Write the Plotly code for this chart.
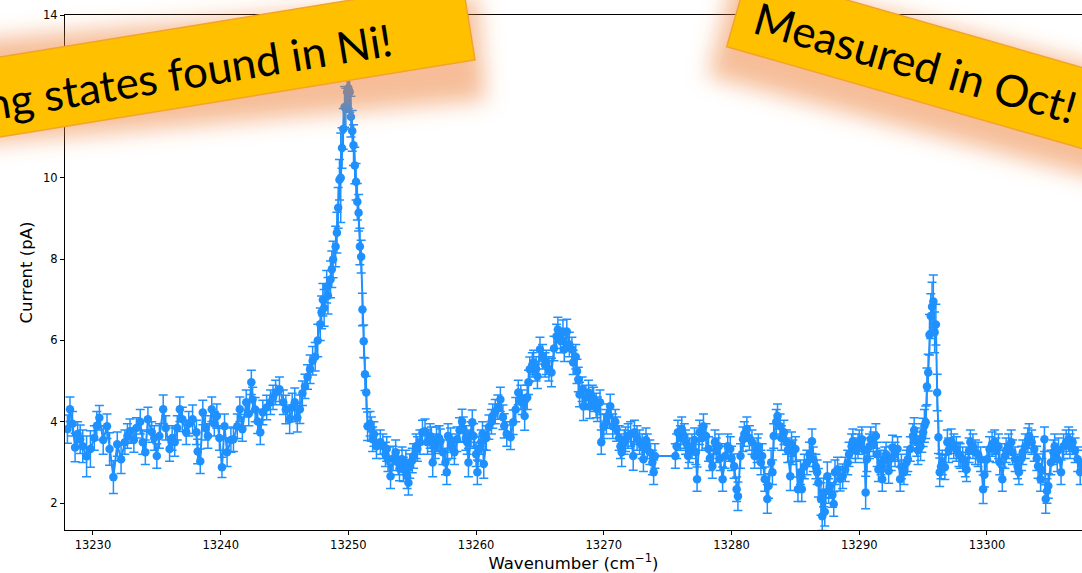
import base64
import math
import plotly.graph_objects as go

# ---------------- data ----------------
wavenumber = [
    13228.0, 13228.2, 13228.4, 13228.6, 13228.8, 13229.0, 13229.2, 13229.5, 13229.8, 13230.1,
    13230.3, 13230.5, 13230.8, 13231.1, 13231.3, 13231.6, 13231.9, 13232.2, 13232.5, 13232.7,
    13232.9, 13233.2, 13233.4, 13233.7, 13233.9, 13234.1, 13234.3, 13234.6, 13234.8, 13235.0,
    13235.2, 13235.5, 13235.7, 13236.0, 13236.2, 13236.4, 13236.6, 13236.8, 13237.0, 13237.3,
    13237.5, 13237.8, 13238.1, 13238.2, 13238.4, 13238.6, 13238.8, 13239.0, 13239.3, 13239.5,
    13239.7, 13239.9, 13240.1, 13240.3, 13240.5, 13240.8, 13241.0, 13241.3, 13241.5, 13241.7,
    13242.0, 13242.2, 13242.4, 13242.5, 13242.7, 13242.9, 13243.1, 13243.3, 13243.6, 13243.9,
    13244.1, 13244.3, 13244.6, 13244.9, 13245.1, 13245.4, 13245.6, 13245.8, 13246.0, 13246.2,
    13246.4, 13246.6, 13246.8, 13247.0, 13247.2, 13247.4, 13247.6, 13247.8, 13247.9, 13248.0,
    13248.1, 13248.3, 13248.4, 13248.6, 13248.7, 13248.8, 13249.0, 13249.1, 13249.2, 13249.3,
    13249.4, 13249.5, 13249.6, 13249.7, 13249.8, 13249.9, 13250.0, 13250.1, 13250.2, 13250.3,
    13250.4, 13250.5, 13250.6, 13250.7, 13250.8, 13250.9, 13251.0, 13251.1, 13251.2, 13251.3,
    13251.4, 13251.5, 13251.7, 13251.8, 13251.9, 13252.0, 13252.2, 13252.5, 13252.7, 13252.9,
    13253.0, 13253.1, 13253.3, 13253.5, 13253.7, 13253.9, 13254.0, 13254.2, 13254.3, 13254.5,
    13254.6, 13254.7, 13254.8, 13255.0, 13255.1, 13255.3, 13255.4, 13255.6, 13255.8, 13256.0,
    13256.2, 13256.4, 13256.5, 13256.6, 13256.8, 13256.9, 13257.1, 13257.2, 13257.4, 13257.6,
    13257.7, 13257.8, 13258.0, 13258.1, 13258.3, 13258.5, 13258.7, 13258.9, 13259.0, 13259.2,
    13259.3, 13259.4, 13259.6, 13259.7, 13259.8, 13260.0, 13260.1, 13260.2, 13260.4, 13260.5,
    13260.6, 13260.8, 13261.0, 13261.2, 13261.3, 13261.5, 13261.7, 13261.9, 13262.1, 13262.2,
    13262.4, 13262.7, 13262.9, 13263.1, 13263.3, 13263.5, 13263.6, 13263.8, 13264.0, 13264.1,
    13264.2, 13264.4, 13264.5, 13264.7, 13264.8, 13265.0, 13265.2, 13265.4, 13265.5, 13265.7,
    13265.9, 13266.1, 13266.3, 13266.4, 13266.6, 13266.8, 13266.9, 13267.1, 13267.3, 13267.5,
    13267.6, 13267.8, 13267.9, 13268.0, 13268.1, 13268.3, 13268.4, 13268.6, 13268.8, 13268.9,
    13269.1, 13269.2, 13269.4, 13269.5, 13269.7, 13269.8, 13270.0, 13270.2, 13270.3, 13270.5,
    13270.7, 13270.9, 13271.0, 13271.2, 13271.3, 13271.4, 13271.6, 13271.7, 13271.9, 13272.1,
    13272.3, 13272.4, 13272.6, 13272.8, 13273.0, 13273.1, 13273.3, 13273.4, 13273.6, 13273.8,
    13273.9, 13274.0, 13275.6, 13275.7, 13275.8, 13276.0, 13276.1, 13276.3, 13276.4, 13276.6,
    13276.7, 13276.9, 13277.1, 13277.2, 13277.3, 13277.5, 13277.7, 13277.8, 13278.0, 13278.2,
    13278.3, 13278.5, 13278.7, 13278.8, 13279.0, 13279.1, 13279.3, 13279.5, 13279.7, 13279.9,
    13280.0, 13280.2, 13280.4, 13280.5, 13280.7, 13280.9, 13281.0, 13281.2, 13281.4, 13281.6,
    13281.8, 13282.0, 13282.1, 13282.3, 13282.4, 13282.6, 13282.8, 13282.9, 13283.1, 13283.2,
    13283.3, 13283.5, 13283.6, 13283.8, 13283.9, 13284.1, 13284.3, 13284.4, 13284.6, 13284.7,
    13284.8, 13285.0, 13285.2, 13285.4, 13285.5, 13285.7, 13285.9, 13286.1, 13286.3, 13286.4,
    13286.6, 13286.7, 13286.8, 13287.0, 13287.1, 13287.2, 13287.3, 13287.5, 13287.6, 13287.7,
    13287.9, 13288.0, 13288.1, 13288.3, 13288.5, 13288.7, 13288.9, 13289.1, 13289.2, 13289.4,
    13289.5, 13289.7, 13289.9, 13290.0, 13290.2, 13290.4, 13290.5, 13290.6, 13290.8, 13290.9,
    13291.1, 13291.3, 13291.4, 13291.5, 13291.7, 13291.8, 13292.0, 13292.1, 13292.3, 13292.5,
    13292.6, 13292.8, 13293.0, 13293.2, 13293.3, 13293.5, 13293.7, 13293.8, 13294.0, 13294.2,
    13294.3, 13294.5, 13294.6, 13294.8, 13294.9, 13295.0, 13295.1, 13295.2, 13295.3, 13295.4,
    13295.5, 13295.6, 13295.7, 13295.8, 13295.9, 13296.0, 13296.1, 13296.2, 13296.3, 13296.4,
    13296.5, 13296.7, 13296.9, 13297.0, 13297.2, 13297.4, 13297.6, 13297.8, 13297.9, 13298.1,
    13298.3, 13298.4, 13298.6, 13298.7, 13298.9, 13299.1, 13299.3, 13299.5, 13299.7, 13299.8,
    13300.0, 13300.2, 13300.4, 13300.6, 13300.7, 13300.9, 13301.0, 13301.2, 13301.4, 13301.5,
    13301.7, 13301.9, 13302.0, 13302.2, 13302.4, 13302.5, 13302.7, 13302.8, 13303.0, 13303.2,
    13303.3, 13303.5, 13303.7, 13303.9, 13304.0, 13304.2, 13304.3, 13304.5, 13304.6, 13304.7,
    13304.8, 13305.0, 13305.2, 13305.3, 13305.5, 13305.6, 13305.8, 13306.0, 13306.2, 13306.4,
    13306.5, 13306.7, 13306.9, 13307.1, 13307.3, 13307.5,
]

current = [
    3.82, 4.31, 3.95, 3.37, 3.70, 3.57, 3.40, 3.15, 3.33, 3.60,
    3.90, 4.10, 3.55, 3.89, 3.33, 2.64, 3.45, 3.08, 3.50, 3.65,
    3.77, 3.55, 3.85, 4.00, 3.50, 3.25, 4.06, 3.75, 3.60, 3.16,
    3.65, 4.31, 3.85, 3.33, 3.60, 3.50, 3.85, 4.31, 4.06, 3.74,
    3.95, 4.06, 3.74, 3.27, 3.03, 4.23, 3.85, 3.65, 4.31, 3.95,
    4.14, 3.60, 2.88, 3.89, 3.25, 3.55, 3.57, 3.89, 4.31, 3.82,
    4.48, 4.20, 4.97, 4.55, 4.30, 4.01, 3.74, 4.23, 4.35, 4.48,
    4.60, 4.72, 4.80, 4.48, 4.30, 4.06, 4.35, 4.48, 4.10, 4.31,
    4.70, 4.87, 5.10, 5.29, 5.50, 5.60, 6.00, 6.40, 6.69, 7.00,
    6.80, 7.32, 7.10, 7.50, 7.75, 7.99, 8.31, 8.65, 9.26, 9.95,
    10.00, 10.73, 11.20, 11.74, 11.70, 12.11, 12.20, 12.11, 11.50, 11.15,
    10.80, 10.30, 9.90, 9.41, 9.14, 8.31, 8.06, 6.76, 5.98, 5.17,
    4.72, 3.89, 3.95, 3.82, 3.57, 3.70, 3.40, 3.50, 3.40, 3.20,
    3.33, 3.08, 2.66, 3.10, 3.25, 3.00, 2.85, 3.08, 2.83, 3.00,
    2.66, 2.50, 2.91, 3.05, 3.16, 3.40, 3.33, 3.50, 3.74, 3.77,
    3.50, 3.65, 3.57, 3.00, 3.40, 3.57, 3.60, 3.52, 3.25, 3.00,
    2.76, 3.65, 3.55, 3.40, 3.25, 3.57, 3.80, 4.01, 3.82, 3.60,
    3.50, 3.00, 3.70, 3.99, 3.65, 3.20, 2.76, 3.33, 3.50, 3.70,
    2.96, 3.60, 3.87, 4.00, 4.14, 4.25, 4.36, 4.55, 4.11, 3.90,
    3.70, 3.62, 3.99, 4.30, 4.72, 4.60, 4.48, 4.14, 4.60, 4.97,
    5.29, 5.40, 5.46, 5.30, 5.12, 5.78, 5.60, 5.40, 5.46, 5.30,
    5.21, 5.80, 6.10, 6.27, 6.00, 6.20, 5.78, 6.22, 5.90, 5.78,
    5.46, 5.60, 5.24, 5.04, 4.67, 4.80, 4.38, 4.60, 4.72, 4.38,
    4.60, 4.55, 4.40, 4.31, 4.48, 3.50, 3.89, 4.00, 4.14, 4.38,
    3.89, 4.00, 3.82, 3.60, 3.40, 3.25, 3.50, 3.57, 3.65, 3.70,
    3.16, 3.74, 3.60, 3.50, 3.40, 3.08, 3.55, 3.40, 3.25, 3.00,
    2.76, 3.16, 3.16, 3.40, 3.74, 3.60, 3.82, 3.65, 3.50, 3.16,
    3.30, 3.40, 3.55, 3.25, 2.59, 3.74, 3.60, 3.89, 3.65, 3.33,
    3.10, 2.91, 3.50, 3.30, 3.40, 3.10, 2.59, 3.16, 3.40, 3.33,
    3.10, 2.91, 2.34, 2.17, 3.16, 3.57, 3.70, 3.82, 3.60, 3.50,
    3.16, 3.30, 3.40, 3.00, 3.16, 2.59, 2.10, 2.42, 3.00, 2.76,
    3.65, 4.00, 4.14, 3.89, 3.60, 3.74, 3.50, 3.30, 2.66, 3.45,
    3.25, 3.33, 2.34, 2.76, 2.34, 2.90, 3.00, 3.20, 3.52, 3.08,
    2.90, 2.76, 2.50, 2.10, 1.68, 2.26, 1.79, 2.66, 2.30, 2.42,
    2.20, 1.98, 2.76, 2.83, 2.60, 2.66, 2.83, 3.00, 3.20, 3.40,
    3.52, 3.30, 3.40, 3.50, 3.57, 3.30, 2.26, 3.08, 3.40, 3.57,
    3.45, 3.65, 3.20, 2.83, 3.00, 2.59, 3.08, 3.20, 2.79, 3.10,
    3.37, 3.20, 3.33, 2.59, 2.90, 2.76, 3.00, 3.08, 3.33, 3.65,
    3.80, 3.50, 3.30, 3.40, 3.60, 3.74, 3.90, 3.99, 4.87, 5.21,
    6.14, 6.60, 6.83, 6.96, 6.20, 6.39, 4.72, 3.62, 2.76, 2.90,
    3.00, 2.88, 3.50, 3.30, 3.52, 3.40, 3.33, 3.20, 3.16, 3.08,
    2.95, 2.83, 3.30, 3.50, 3.40, 3.25, 3.20, 3.08, 2.34, 2.70,
    3.08, 3.33, 3.45, 3.50, 3.30, 3.40, 3.00, 2.59, 3.16, 3.30,
    3.40, 3.50, 3.25, 3.08, 2.90, 2.76, 3.10, 3.25, 3.40, 3.55,
    3.65, 3.50, 3.33, 3.10, 2.91, 2.59, 2.80, 3.57, 2.10, 2.30,
    2.42, 3.00, 3.25, 3.40, 3.08, 3.30, 2.76, 3.40, 3.50, 3.57,
    3.40, 3.50, 3.30, 3.08, 2.76, 3.00,
]

current_err = [
    0.35, 0.30, 0.30, 0.35, 0.30, 0.35, 0.40, 0.50, 0.45, 0.30,
    0.35, 0.30, 0.35, 0.30, 0.40, 0.40, 0.30, 0.35, 0.30, 0.30,
    0.30, 0.30, 0.25, 0.30, 0.30, 0.30, 0.30, 0.25, 0.30, 0.30,
    0.30, 0.35, 0.30, 0.30, 0.30, 0.35, 0.30, 0.30, 0.30, 0.30,
    0.30, 0.35, 0.30, 0.30, 0.30, 0.30, 0.30, 0.30, 0.30, 0.30,
    0.30, 0.30, 0.25, 0.30, 0.35, 0.30, 0.30, 0.30, 0.30, 0.30,
    0.30, 0.30, 0.30, 0.30, 0.30, 0.30, 0.30, 0.30, 0.30, 0.30,
    0.30, 0.30, 0.30, 0.30, 0.35, 0.35, 0.35, 0.35, 0.35, 0.35,
    0.30, 0.30, 0.30, 0.35, 0.35, 0.35, 0.40, 0.40, 0.40, 0.40,
    0.45, 0.40, 0.45, 0.45, 0.45, 0.45, 0.50, 0.50, 0.50, 0.50,
    1.10, 0.50, 0.50, 0.50, 0.50, 0.50, 0.50, 0.50, 0.50, 0.50,
    0.50, 0.45, 0.45, 0.45, 0.45, 0.45, 0.40, 0.40, 0.40, 0.40,
    0.40, 0.35, 0.30, 0.30, 0.30, 0.30, 0.30, 0.30, 0.30, 0.30,
    0.30, 0.30, 0.30, 0.30, 0.30, 0.30, 0.30, 0.30, 0.30, 0.30,
    0.30, 0.30, 0.30, 0.30, 0.30, 0.30, 0.30, 0.30, 0.30, 0.30,
    0.30, 0.30, 0.30, 0.35, 0.30, 0.30, 0.30, 0.30, 0.30, 0.30,
    0.30, 0.30, 0.30, 0.30, 0.30, 0.30, 0.30, 0.30, 0.30, 0.30,
    0.30, 0.35, 0.30, 0.30, 0.30, 0.30, 0.30, 0.30, 0.30, 0.30,
    0.35, 0.30, 0.30, 0.30, 0.30, 0.30, 0.30, 0.30, 0.30, 0.30,
    0.30, 0.30, 0.30, 0.30, 0.30, 0.30, 0.30, 0.35, 0.30, 0.30,
    0.30, 0.30, 0.30, 0.30, 0.30, 0.30, 0.30, 0.30, 0.30, 0.30,
    0.35, 0.30, 0.30, 0.30, 0.30, 0.30, 0.30, 0.30, 0.30, 0.30,
    0.30, 0.30, 0.30, 0.30, 0.30, 0.30, 0.35, 0.30, 0.30, 0.30,
    0.30, 0.30, 0.30, 0.30, 0.30, 0.30, 0.30, 0.30, 0.30, 0.30,
    0.30, 0.30, 0.30, 0.30, 0.30, 0.35, 0.30, 0.30, 0.30, 0.30,
    0.35, 0.30, 0.30, 0.30, 0.30, 0.30, 0.30, 0.30, 0.30, 0.30,
    0.30, 0.30, 0.30, 0.30, 0.30, 0.30, 0.30, 0.30, 0.30, 0.30,
    0.30, 0.30, 0.30, 0.30, 0.30, 0.30, 0.30, 0.30, 0.30, 0.30,
    0.30, 0.30, 0.30, 0.30, 0.30, 0.30, 0.30, 0.30, 0.30, 0.30,
    0.30, 0.30, 0.30, 0.35, 0.30, 0.30, 0.30, 0.30, 0.30, 0.30,
    0.30, 0.30, 0.30, 0.30, 0.30, 0.30, 0.35, 0.30, 0.30, 0.30,
    0.30, 0.30, 0.30, 0.30, 0.30, 0.30, 0.30, 0.30, 0.35, 0.30,
    0.30, 0.30, 0.30, 0.30, 0.30, 0.30, 0.30, 0.30, 0.30, 0.30,
    0.30, 0.30, 0.35, 0.40, 0.35, 0.35, 0.35, 0.35, 0.30, 0.30,
    0.30, 0.30, 0.30, 0.30, 0.30, 0.30, 0.30, 0.30, 0.30, 0.30,
    0.30, 0.30, 0.30, 0.30, 0.30, 0.30, 0.40, 0.30, 0.30, 0.30,
    0.30, 0.30, 0.30, 0.30, 0.30, 0.30, 0.30, 0.30, 0.30, 0.30,
    0.30, 0.30, 0.30, 0.30, 0.30, 0.30, 0.30, 0.30, 0.30, 0.30,
    0.30, 0.35, 0.35, 0.35, 0.35, 0.35, 0.40, 0.40, 0.45, 0.45,
    0.50, 0.55, 0.60, 0.65, 0.50, 0.50, 0.45, 0.40, 0.35, 0.30,
    0.30, 0.30, 0.30, 0.30, 0.30, 0.30, 0.30, 0.30, 0.30, 0.30,
    0.30, 0.30, 0.30, 0.30, 0.30, 0.30, 0.30, 0.30, 0.35, 0.30,
    0.30, 0.30, 0.30, 0.30, 0.30, 0.30, 0.30, 0.30, 0.30, 0.30,
    0.30, 0.30, 0.30, 0.30, 0.30, 0.30, 0.30, 0.30, 0.30, 0.30,
    0.30, 0.30, 0.30, 0.30, 0.30, 0.30, 0.30, 0.30, 0.35, 0.30,
    0.30, 0.30, 0.30, 0.30, 0.30, 0.30, 0.30, 0.30, 0.30, 0.30,
    0.30, 0.30, 0.30, 0.30, 0.30, 0.30,
]

x_tick_vals = [13230, 13240, 13250, 13260, 13270, 13280, 13290, 13300]
y_tick_vals = [2, 4, 6, 8, 10, 12, 14]
x_range = [13227.81, 13307.44]
y_range = [1.34, 14.0]
banner_texts = ["Autoionizing states found in Ni!", "Measured in Oct!"]

assert len(wavenumber) == len(current) == len(current_err)

# ---------------- geometry / style ----------------
FIG_W, FIG_H = 1082, 573
M_L, M_R, M_T, M_B = 65, 0, 15, 43
PW = FIG_W - M_L - M_R
PH = FIG_H - M_T - M_B
BLUE = "#1E90FF"


def to_paper(px, py):
    return (px - M_L) / PW, (FIG_H - M_B - py) / PH


# banner: anchor (pixel), angle (deg), rect extent along/across its axis,
# text centre along (tc) and across (tn) the axis; glow: its own frame
banners = [
    dict(ax=468.7, ay=21.0, ang=-9.2, s0=-900.0, s1=0.0, h0=-39.5, h1=39.5, tc=-382.0, tn=5.0,
         gx=472.0, gy=55.0, gang=-5.0, g0=-900.0, g1=10.0, gh0=-58.0, gh1=46.0),
    dict(ax=737.5, ay=9.2, ang=16.0, s0=0.0, s1=460.0, h0=-39.0, h1=39.0, tc=186.0, tn=2.0,
         gx=722.0, gy=22.0, gang=14.7, g0=0.0, g1=460.0, gh0=-52.0, gh1=56.0),
]

glow_parts = []
rect_parts = []
for b in banners:
    gtr = f'translate({b["gx"]},{b["gy"]}) rotate({b["gang"]})'
    glow_parts.append(
        f'<g transform="{gtr}"><rect x="{b["g0"]}" y="{b["gh0"]}" width="{b["g1"] - b["g0"]}" '
        f'height="{b["gh1"] - b["gh0"]}" fill="#ED7D31" fill-opacity="0.5" filter="url(#glow)"/></g>'
    )
    tr = f'translate({b["ax"]},{b["ay"]}) rotate({b["ang"]})'
    rect_parts.append(
        f'<g transform="{tr}"><rect x="{b["s0"]}" y="{b["h0"]}" width="{b["s1"] - b["s0"]}" '
        f'height="{b["h1"] - b["h0"]}" fill="#FFC000" stroke="#F3A32A" stroke-width="1.5"/></g>'
    )

svg = (
    f'<svg xmlns="http://www.w3.org/2000/svg" width="{FIG_W}" height="{FIG_H}" '
    f'viewBox="0 0 {FIG_W} {FIG_H}" preserveAspectRatio="none">'
    '<defs><filter id="glow" filterUnits="userSpaceOnUse" x="-3000" y="-3000" width="6000" height="6000">'
    '<feGaussianBlur stdDeviation="11"/></filter></defs>'
    + "".join(glow_parts) + "".join(rect_parts) + "</svg>"
)
svg_uri = "data:image/svg+xml;base64," + base64.b64encode(svg.encode()).decode()

fig = go.Figure(
    go.Scatter(
        x=wavenumber,
        y=current,
        mode="lines+markers",
        line=dict(color=BLUE, width=2),
        marker=dict(color=BLUE, size=8.5),
        error_y=dict(type="data", array=current_err, visible=True,
                     color=BLUE, thickness=1.5, width=4.5),
        showlegend=False,
        hoverinfo="skip",
    )
)

fig.add_layout_image(
    dict(source=svg_uri, xref="paper", yref="paper",
         x=-M_L / PW, y=(FIG_H - M_B) / PH,
         sizex=FIG_W / PW, sizey=FIG_H / PH,
         xanchor="left", yanchor="top", sizing="stretch", layer="above")
)

for b, txt in zip(banners, banner_texts):
    a = math.radians(b["ang"])
    cx = b["ax"] + b["tc"] * math.cos(a) - b["tn"] * math.sin(a)
    cy = b["ay"] + b["tc"] * math.sin(a) + b["tn"] * math.cos(a)
    px, py = to_paper(cx, cy)
    fig.add_annotation(
        x=px, y=py, xref="paper", yref="paper", text=txt, showarrow=False,
        textangle=b["ang"], xanchor="center", yanchor="middle",
        font=dict(family="Lato", size=44, color="black"),
    )

tick_font = dict(family="DejaVu Sans", size=11.5, color="black")
title_font = dict(family="DejaVu Sans", size=16.5, color="black")

fig.update_layout(
    width=FIG_W, height=FIG_H, autosize=False,
    margin=dict(l=M_L, r=M_R, t=M_T, b=M_B, pad=0),
    paper_bgcolor="white", plot_bgcolor="white",
    xaxis=dict(range=x_range, tickmode="array", tickvals=x_tick_vals,
               ticktext=[str(v) for v in x_tick_vals],
               ticks="outside", ticklen=4, tickwidth=1, tickcolor="black",
               showline=True, linecolor="black", linewidth=1, mirror=True,
               showgrid=False, zeroline=False, tickfont=tick_font,
               title=dict(text="Wavenumber (cm<sup>\u22121</sup>)", font=title_font, standoff=4),
               automargin=False),
    yaxis=dict(range=y_range, tickmode="array", tickvals=y_tick_vals,
               ticktext=[str(v) for v in y_tick_vals],
               ticks="outside", ticklen=4, tickwidth=1, tickcolor="black",
               showline=True, linecolor="black", linewidth=1, mirror=False,
               showgrid=False, zeroline=False, tickfont=tick_font,
               title=dict(text="Current (pA)", font=title_font, standoff=6),
               automargin=False),
)

fig.write_html("out.html")
